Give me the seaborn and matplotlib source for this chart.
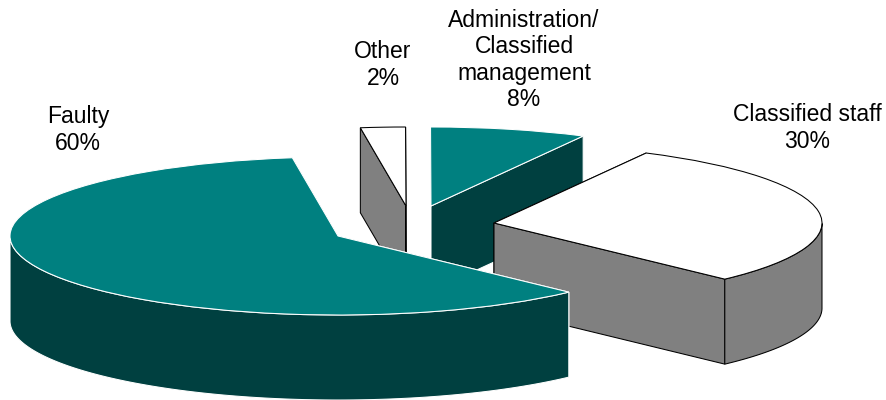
import numpy as np
import matplotlib
matplotlib.use("Agg")
import matplotlib.pyplot as plt
import seaborn as sns

categories = ["Other", "Administration/\nClassified\nmanagement", "Classified staff", "Faulty"]
shares = [2.2, 7.7, 29.9, 60.2]

top_colors = ["white", "#008080", "white", "#008080"]
wall_colors = ["#808080", "#004040", "#808080", "#004040"]
line_colors = ["black", "white", "black", "white"]
apex_px = [(406, 206), (431, 206), (494, 223), (338, 236)]
label_px = [(383, 65), (524, 60), (807, 128), (78, 130)]

W, H = 887, 400
RX, RY, DEPTH = 328, 79, 85
START = 98
LW = 0.75

sns.set_theme(style="white")
plt.rcParams["font.family"] = ["Liberation Sans", "DejaVu Sans"]

fig = plt.figure(figsize=(W / 100, H / 100), dpi=100, facecolor="white")
ax = fig.add_axes([0, 0, 1, 1])
wedges, _ = ax.pie(shares, startangle=START, counterclock=False, colors=top_colors,
                   wedgeprops=dict(linewidth=LW))
ax.set_aspect("auto")
ax.set_xlim(0, W / RX)
ax.set_ylim(0, H / RY)
ax.axis("off")


def to_data(px, py):
    return px / RX, (H - py) / RY


depth = DEPTH / RY
# back slices first, the big front slice last
for i in [1, 2, 0, 3]:
    w = wedges[i]
    cx, cy = to_data(*apex_px[i])
    w.set_center((cx, cy))
    w.set_edgecolor(line_colors[i])
    w.set_zorder(10 + 2 * i + 1)
    style = dict(facecolor=wall_colors[i], edgecolor=line_colors[i],
                 linewidth=LW, zorder=10 + 2 * i)
    # the cut face at theta1 is the one seen on the right-hand slices: draw it last
    for ang in (w.theta2, w.theta1):
        t = np.radians(ang)
        xs = [cx, cx + np.cos(t), cx + np.cos(t), cx]
        ys = [cy, cy + np.sin(t), cy + np.sin(t) - depth, cy - depth]
        ax.fill(xs, ys, **style)
    angs = np.radians(np.linspace(w.theta1, w.theta2, 300))
    angs = angs[np.sin(angs) <= 0]
    if angs.size:
        rim_x = cx + np.cos(angs)
        rim_y = cy + np.sin(angs)
        ax.fill(np.r_[rim_x, rim_x[::-1]], np.r_[rim_y, rim_y[::-1] - depth], **style)

for cat, val, (px, py) in zip(categories, shares, label_px):
    x, y = to_data(px, py)
    ax.text(x, y, f"{cat}\n{val:.0f}%", ha="center", va="center", fontsize=16.5,
            color="black", linespacing=1.18, zorder=40)

fig.savefig("out.png", dpi=100, facecolor="white")
